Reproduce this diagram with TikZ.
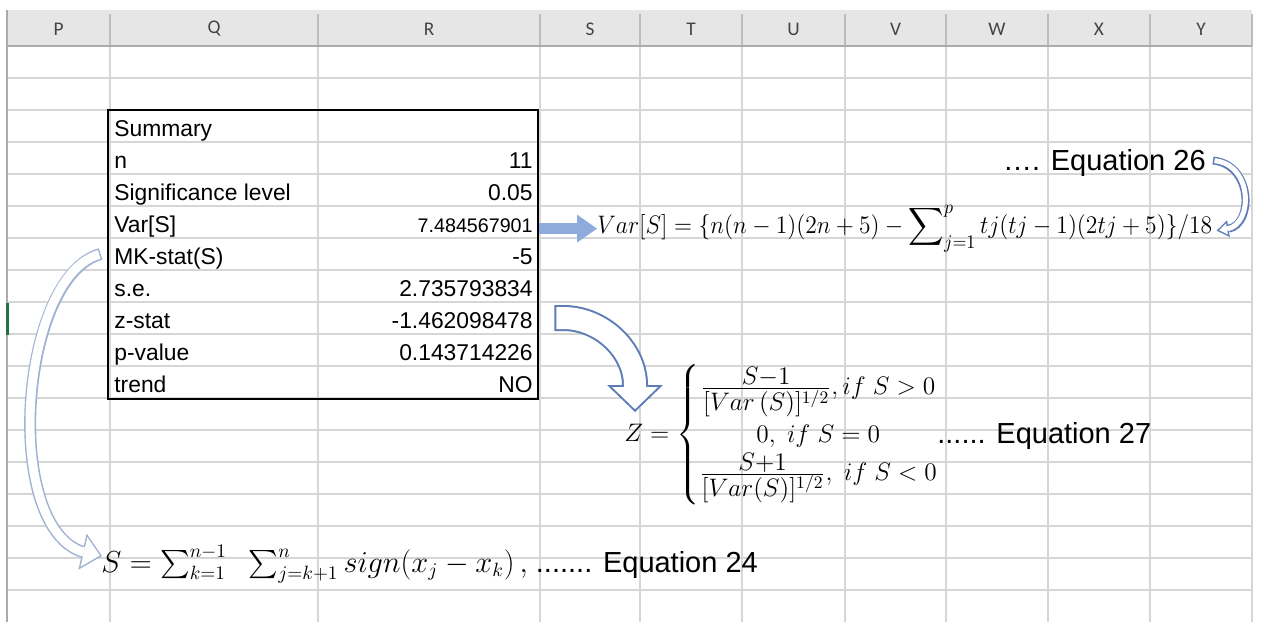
\documentclass[tikz,border=0pt]{standalone}
\usepackage{amsmath,amssymb}
\usepackage[no-math]{fontspec}
\setmainfont{Liberation Sans}
\newfontfamily\headfont{Carlito}
\usepackage{tikz}
\usetikzlibrary{arrows.meta, positioning, calc}
\DeclareMathSizes{14.8}{14.8}{13.4}{10}
\definecolor{gridgray}{RGB}{214,214,214}
\definecolor{headfill}{RGB}{230,230,230}
\definecolor{headline}{RGB}{171,171,171}
\definecolor{headtext}{RGB}{68,68,68}
\definecolor{fillblue}{RGB}{143,170,220}
\definecolor{outlineblue}{RGB}{94,125,182}
\definecolor{paleblue}{RGB}{160,178,212}
\definecolor{selgreen}{RGB}{33,115,70}

\begin{document}
\begin{tikzpicture}[
    x=0.02cm, y=-0.02cm,
    gridline/.style={draw=gridgray, line width=0.6pt},
    headsep/.style={draw=headline!80, line width=0.6pt},
    colhead/.style={font=\headfont\fontsize{11}{13}\selectfont, text=headtext, inner sep=0pt},
    labcell/.style={anchor=base west, inner sep=0pt, font=\fontsize{13}{15}\selectfont},
    valcell/.style={anchor=base east, inner sep=0pt, font=\fontsize{13}{15}\selectfont},
    tablebox/.style={rectangle, draw=black, line width=1.6pt, minimum width=8.6cm, minimum height=5.78cm, inner sep=0pt},
    eqlabel/.style={inner sep=0pt, font=\fontsize{16.5}{20}\selectfont},
    mathbox/.style={inner sep=0pt, font=\fontsize{15}{18}\selectfont},
    blockarrow/.style={fillblue, line width=0.22cm, -{Triangle[width=0.56cm, length=0.4cm, line width=0pt]}},
    zout/.style={outlineblue, line width=0.52cm, -{Triangle[width=1.12cm, length=0.54cm, line width=0pt]}},
    zin/.style={white, line width=0.44cm, shorten <=0.04cm, shorten >=0.056cm, -{Triangle[width=0.92cm, length=0.444cm, line width=0pt]}},
    loopout/.style={outlineblue, line width=0.16cm, -{Triangle[width=0.34cm, length=0.24cm, line width=0pt]}},
    loopin/.style={white, line width=0.10cm, shorten <=0.03cm, shorten >=0.052cm, -{Triangle[width=0.224cm, length=0.158cm, line width=0pt]}},
    bendout/.style={paleblue, line width=0.24cm, -{Triangle[width=0.74cm, length=0.4cm, line width=0pt]}},
    bendin/.style={white, line width=0.18cm, shorten <=0.03cm, shorten >=0.044cm, -{Triangle[width=0.604cm, length=0.326cm, line width=0pt]}}
]

% Sheet background
\fill[white] (0,0) rectangle (1265,622);
\useasboundingbox (0,0) rectangle (1265,622);

% Cell grid
\foreach \x in {110,318,540,640,742,845,946,1048,1150,1252}
    \draw[gridline] (\x,46) -- (\x,622);
\foreach \y in {78,110,...,590}
    \draw[gridline] (7,\y) -- (1252,\y);

% Column header band
\fill[headfill] (7,10) rectangle (1252,46);
\foreach \x in {110,318,540,640,742,845,946,1048,1150,1252}
    \draw[headsep] (\x,14) -- (\x,46);
\draw[headline, line width=1.1pt] (7,46) -- (1252,46);
\draw[headline, line width=0.8pt] (7,10) -- (7,622);
\fill[selgreen] (5.5,303) rectangle (8.5,335);
\foreach \c/\x in {P/58.5, Q/214, R/429, S/590, T/691, U/793.5, V/895.5, W/997, X/1099, Y/1201}
    \node[colhead] (col\c) at (\x,29) {\c};

% Summary table
\node[tablebox] (tbl) at (323,254.5) {};
\node[labcell] (L1) at (114,136) {Summary};
\node[labcell] (L2) at (114,168) {n};
\node[valcell] (V2) at (533,168) {11};
\node[labcell] (L3) at (114,200) {Significance level};
\node[valcell] (V3) at (533,200) {0.05};
\node[labcell] (L4) at (114,232) {Var[S]};
\node[valcell, font=\fontsize{11.2}{13}\selectfont] (V4) at (533,232) {7.484567901};
\node[labcell] (L5) at (114,264) {MK-stat(S)};
\node[valcell] (V5) at (533,264) {-5};
\node[labcell] (L6) at (114,296) {s.e.};
\node[valcell] (V6) at (533,296) {2.735793834};
\node[labcell] (L7) at (114,328) {z-stat};
\node[valcell] (V7) at (533,328) {-1.462098478};
\node[labcell] (L8) at (114,360) {p-value};
\node[valcell] (V8) at (533,360) {0.143714226};
\node[labcell] (L9) at (114,392) {trend};
\node[valcell] (V9) at (533,392) {NO};

% Equation 26
\node[mathbox, anchor=base west] (vareq) at (597,233)
    {\resizebox{12.3cm}{\height}{$Var[S] = \{n(n-1)(2n+5) - \displaystyle\sum\nolimits_{j=1}^{p} tj(tj-1)(2tj+5)\}/18$}};
\node[eqlabel, anchor=base east] (eq26) at (1206,170) {…. Equation 26};

% Equation 27
\node[mathbox, font=\fontsize{14.8}{18}\selectfont, anchor=west] (zeq) at (624,435)
    {$Z = \left\{\renewcommand{\arraystretch}{1.15}\begin{array}{@{}c@{}}
        \frac{S-1}{[Var\,(S)]^{1/2}}, if\ S > 0\\
        0,\ if\ S = 0\\
        \frac{S+1}{[Var(S)]^{1/2}},\ if\ S < 0
     \end{array}\right.$};
\node[eqlabel, anchor=base west] (eq27) at (937,443) {...... Equation 27};

% Equation 24
\node[eqlabel, anchor=base west] (seq) at (101,572)
    {{\fontsize{16}{19}\selectfont$S = \sum_{k=1}^{n-1}\hspace{0.6em} \sum_{j=k+1}^{n} sign(x_j - x_k)\,,$} ....... Equation 24};

% Connector end points
\coordinate (s26) at ($(eq26.east)+(7,-2)$);
\coordinate (t26) at ($(vareq.east)+(4,2)$);
\coordinate (zstart) at ($(tbl.east |- L7.base)+(15,-10)$);
\coordinate (ztip) at ($(zeq.west)+(11,-23)$);
\coordinate (mkstart) at ($(tbl.west |- L5.base)+(-6,-10)$);
\coordinate (mktip) at ($(seq.base west)+(1,-16)$);

% Var[S] to its formula
\draw[blockarrow] (tbl.east |- vareq.west) -- (vareq.west);

% Equation 26 label back to the formula
\draw[loopout] (s26) .. controls +(40,4) and +(37,-6) .. (t26);
\draw[loopin] (s26) .. controls +(40,4) and +(37,-6) .. (t26);

% z-stat down to Z
\draw[zout] (zstart) -- ++(9,0) .. controls +(38,0) and +(0,-35) .. ($(ztip)+(0,-27)$) -- (ztip);
\draw[zin] (zstart) -- ++(9,0) .. controls +(38,0) and +(0,-35) .. ($(ztip)+(0,-27)$) -- (ztip);

% MK-stat round to S
\draw[bendout] (mkstart) .. controls +(-80,22) and +(-78,-31) .. ($(mktip)+(-22,-5)$) -- (mktip);
\draw[bendin] (mkstart) .. controls +(-80,22) and +(-78,-31) .. ($(mktip)+(-22,-5)$) -- (mktip);

\end{tikzpicture}
\end{document}
